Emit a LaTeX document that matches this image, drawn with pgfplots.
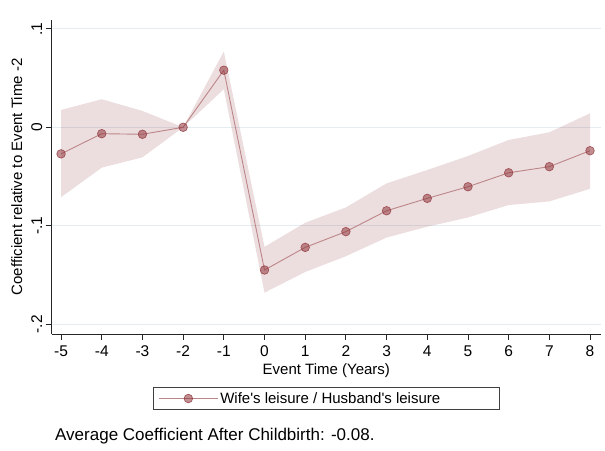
\documentclass[border=0pt]{standalone}
\usepackage{pgfplots}
\pgfplotsset{compat=1.18}
\usepgfplotslibrary{fillbetween}
\usepackage{pgfplotstable}
\usepackage{fontspec}
\setmainfont{Liberation Sans}

\definecolor{cranberry}{RGB}{144,53,59}
\definecolor{gridc}{RGB}{228,237,241}

% event-time coefficients with 95% confidence bounds
\pgfplotstableread{
x    est      lo       hi
-5  -0.0270  -0.0710   0.0176
-4  -0.0065  -0.0410   0.0285
-3  -0.0071  -0.0305   0.0166
-2   0.0000   0.0000   0.0000
-1   0.0580   0.0387   0.0770
0   -0.1450  -0.1680  -0.1215
1   -0.1220  -0.1470  -0.0970
2   -0.1060  -0.1310  -0.0814
3   -0.0848  -0.1120  -0.0570
4   -0.0722  -0.1010  -0.0434
5   -0.0604  -0.0916  -0.0292
6   -0.0462  -0.0790  -0.0129
7   -0.0400  -0.0753  -0.0051
8   -0.0238  -0.0625   0.0142
}\coef

\begin{document}
\begin{tikzpicture}
\path (0,0) rectangle (605pt,450pt);
\begin{axis}[
  at={(51.7pt,116pt)}, anchor=south west,
  scale only axis, width=549.3pt, height=314pt,
  xmin=-5.23, xmax=8.27, ymin=-0.21, ymax=0.109,
  axis x line*=bottom, axis y line*=left,
  axis line style={line width=0.8pt, black!85, -},
  tick align=outside, major tick length=6pt,
  tick style={line width=0.8pt, black!85},
  xtick={-5,...,8},
  ytick={-0.2,-0.1,0,0.1}, yticklabels={-.2,-.1,0,.1},
  ymajorgrids, grid style={gridc, line width=0.8pt},
  ticklabel style={font=\fontsize{15.5}{18}\selectfont},
  /pgf/number format/assume math mode=true,
  yticklabel style={rotate=90, anchor=south},
  xticklabel shift=2pt,
  xlabel={Event Time (Years)},
  ylabel={Coefficient relative to Event Time -2},
  ylabel shift=2pt,
  label style={font=\fontsize{15}{18}\selectfont},
  legend style={at={(0.5,-0.1688)}, anchor=north, draw=black!75, line width=0.7pt,
    inner xsep=5pt, inner ysep=3pt, font=\fontsize{15}{18}\selectfont,
    /tikz/every even column/.append style={column sep=6pt}},
  legend image code/.code={\draw[mark repeat=2, mark phase=2, #1]
    plot coordinates {(0pt,0pt) (29.5pt,0pt) (59pt,0pt)};},
  clip=false,
]
\addplot[name path=hi, draw=none, forget plot] table[x=x, y=hi] {\coef};
\addplot[name path=lo, draw=none, forget plot] table[x=x, y=lo] {\coef};
\addplot[fill=cranberry, fill opacity=0.17, draw=none, forget plot] fill between[of=hi and lo];
\addplot[color=cranberry!60, line width=0.9pt, mark=*, mark size=4.3pt,
  mark options={fill=cranberry, fill opacity=0.55, draw=cranberry, draw opacity=0.75, line width=0.7pt}]
  table[x=x, y=est] {\coef};
\addlegendentry{\makebox[272pt][l]{Wife\textquotesingle s leisure / Husband\textquotesingle s leisure}}
\end{axis}
\node[anchor=base west, font=\fontsize{17}{20}\selectfont, inner sep=0pt] at (55pt,10pt)
  {Average Coefficient After Childbirth: -0.08.};
\end{tikzpicture}
\end{document}
